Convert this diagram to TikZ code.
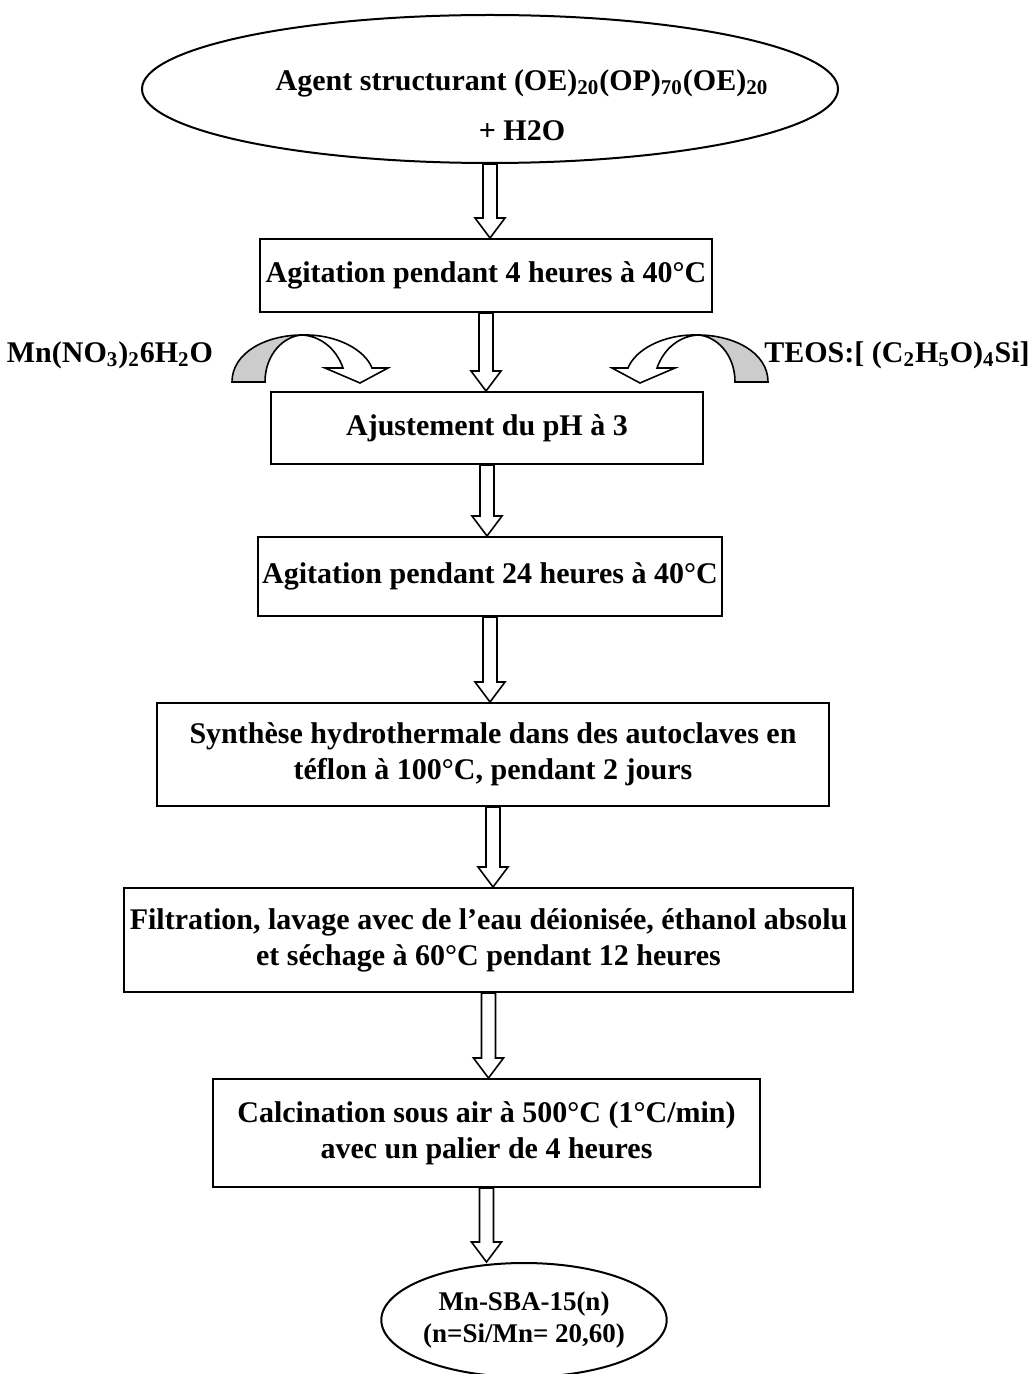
\documentclass[tikz,border=0pt]{standalone}
\usepackage{fontspec}
\setmainfont{Liberation Serif}
\usetikzlibrary{positioning,shapes.geometric,calc}

% block arrow pointing down, from #1 to #2
\newcommand{\fleche}[2]{%
  \draw[blk] let \p1=(#1), \p2=(#2) in
    (\x1-3.5pt,\y1) -- (\x1+3.5pt,\y1) -- (\x1+3.5pt,\y2+10pt) -- (\x1+7.5pt,\y2+10pt)
    -- (\x1,\y2) -- (\x1-7.5pt,\y2+10pt) -- (\x1-3.5pt,\y2+10pt) -- cycle;}

\begin{document}
\begin{tikzpicture}[x=0.5pt, y=-0.5pt,
  font=\fontsize{15}{18}\selectfont\bfseries,
  etape/.style={draw, line width=1pt, align=center, inner sep=2pt},
  ovale/.style={draw, ellipse, line width=1pt, inner sep=0pt},
  blk/.style={draw, fill=white, line width=0.8pt},
  pics/courbe/.style={code={
    \filldraw[fill=gray!40, line width=0.8pt] (0,0) .. controls (0,-30) and (35,-47) .. (70,-47)
      .. controls (52,-46) and (33,-28) .. (33,0) -- cycle;
    \filldraw[fill=white, line width=0.8pt] (70,-47) .. controls (105,-48) and (133,-32) .. (140,-14)
      -- (156,-14) -- (128,1) -- (93,-14) -- (111,-14)
      .. controls (104,-34) and (88,-46) .. (70,-47) -- cycle;
  }}
]
\useasboundingbox (0,0) rectangle (1032,1374);

\node[ovale, minimum width=348pt, minimum height=74pt] (agent) at (490,89) {};
\node[align=center] (agenttxt) at (522,105)
  {Agent structurant (OE)\textsubscript{20}(OP)\textsubscript{70}(OE)\textsubscript{20}\\[7pt] + H2O};

\node[etape, minimum width=226pt, minimum height=36.5pt] (agit1) at (486,275.5)
  {Agitation pendant 4 heures à 40°C};
\node[etape, minimum width=216pt, minimum height=36pt] (ph) at (487,428)
  {Ajustement du pH à 3};
\node[etape, minimum width=226pt, minimum height=39.5pt] (agit2) at (490,576.5)
  {Agitation pendant 24 heures à 40°C};
\node[etape, minimum width=336pt, minimum height=51.5pt] (synth) at (493,754.5)
  {Synthèse hydrothermale dans des autoclaves en\\ téflon à 100°C, pendant 2 jours};
\node[etape, minimum width=364.5pt, minimum height=52pt] (filt) at (488.5,940)
  {Filtration, lavage avec de l’eau déionisée, éthanol absolu\\ et séchage à 60°C pendant 12 heures};
\node[etape, minimum width=273.5pt, minimum height=54pt] (calc) at (486.5,1133)
  {Calcination sous air à 500°C (1°C/min)\\ avec un palier de 4 heures};
\node[ovale, minimum width=136pt, minimum height=57pt, align=center,
  font=\fontsize{13.5}{16}\selectfont\bfseries] (final) at (524,1320)
  {Mn-SBA-15(n)\\ (n=Si/Mn= 20,60)};

\node (mn) at (110,355) {Mn(NO\textsubscript{3})\textsubscript{2}6H\textsubscript{2}O};
\node (teos) at (897,355) {TEOS:[ (C\textsubscript{2}H\textsubscript{5}O)\textsubscript{4}Si]};

\pic at (232,382) {courbe};
\pic[xscale=-1] at (768,382) {courbe};

\fleche{agent.south}{agit1.north}
\fleche{agit1.south}{ph.north}
\fleche{ph.south}{agit2.north}
\fleche{agit2.south}{synth.north}
\fleche{synth.south}{filt.north}
\fleche{filt.south}{calc.north}
\fleche{calc.south}{final.north}
\end{tikzpicture}
\end{document}
